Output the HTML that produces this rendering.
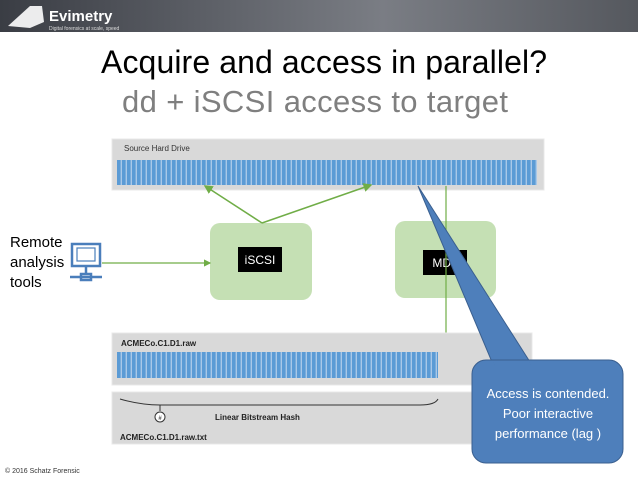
<html><body style="margin:0;width:638px;height:479px;overflow:hidden;background:#fff">
<svg width="638" height="479" xmlns="http://www.w3.org/2000/svg" style="display:block;font-family:'Liberation Sans',sans-serif">
<defs>
<pattern id="st" x="117" y="0" width="5" height="10" patternUnits="userSpaceOnUse"><rect width="5" height="10" fill="#a9c8e8"/><rect width="3.6" height="10" fill="#5b9bd5"/></pattern>
<marker id="ar" markerWidth="6" markerHeight="6" refX="5" refY="3" orient="auto"><path d="M0,0L6,3L0,6z" fill="#70ad47"/></marker>
<linearGradient id="hd" x1="0" x2="1"><stop offset="0" stop-color="#3a3d44"/><stop offset="0.6" stop-color="#7a7d84"/><stop offset="1" stop-color="#55585e"/></linearGradient>
</defs>
<rect x="0" y="0" width="638" height="32" fill="url(#hd)"/>
<path d="M8,26 L30,6 L42,6 L44,22 L30,28 Z" fill="#fff" opacity="0.9"/>
<text x="49" y="21" font-size="15" font-weight="bold" fill="#fff">Evimetry</text>
<text x="49" y="30" font-size="5" fill="#ddd">Digital forensics at scale, speed</text>
<text x="324" y="73" font-size="32" text-anchor="middle" fill="#000" textLength="446">Acquire and access in parallel?</text>
<text x="315" y="112" font-size="31" text-anchor="middle" fill="#7f7f7f" textLength="386">dd + iSCSI access to target</text>
<rect x="112" y="139" width="432" height="51" fill="#d9d9d9" stroke="#e8e8e8"/>
<text x="124" y="151" font-size="8" fill="#333">Source Hard Drive</text>
<rect x="117" y="160" width="420" height="25" fill="url(#st)"/>
<rect x="210" y="223" width="102" height="77" rx="10" fill="#c5e0b4"/>
<rect x="238" y="247" width="44" height="25" fill="#000"/>
<text x="260" y="264" font-size="12" fill="#fff" text-anchor="middle">iSCSI</text>
<rect x="395" y="221" width="101" height="77" rx="10" fill="#c5e0b4"/>
<rect x="423" y="250" width="44" height="25" fill="#000"/>
<text x="445" y="267" font-size="12" fill="#fff" text-anchor="middle">MD5</text>
<line x1="262" y1="223" x2="205" y2="186" stroke="#70ad47" stroke-width="1.5" marker-end="url(#ar)"/>
<line x1="262" y1="223" x2="371" y2="185" stroke="#70ad47" stroke-width="1.5" marker-end="url(#ar)"/>
<line x1="446" y1="186" x2="446" y2="350" stroke="#70ad47" stroke-width="1.2" marker-end="url(#ar)"/>
<line x1="102" y1="263" x2="210" y2="263" stroke="#70ad47" stroke-width="1.2" marker-end="url(#ar)"/>
<rect x="112" y="333" width="420" height="52" fill="#d9d9d9" stroke="#e8e8e8"/>
<text x="121" y="346" font-size="8" font-weight="bold" fill="#222">ACMECo.C1.D1.raw</text>
<rect x="117" y="352" width="321" height="26" fill="url(#st)"/>
<rect x="112" y="392" width="450" height="52" fill="#d9d9d9" stroke="#e8e8e8"/>
<path d="M120,399 Q140,405 160,405 L420,405 Q435,405 438,399" fill="none" stroke="#333"/>
<line x1="160" y1="405" x2="160" y2="411" stroke="#333"/>
<circle cx="160" cy="417" r="5" fill="#fff" stroke="#333"/>
<text x="160" y="420" font-size="6" text-anchor="middle">#</text>
<text x="215" y="420" font-size="8" font-weight="bold" fill="#222">Linear Bitstream Hash</text>
<text x="120" y="440" font-size="8" font-weight="bold" fill="#222">ACMECo.C1.D1.raw.txt</text>
<text font-size="15" fill="#000"><tspan x="10" y="247">Remote</tspan><tspan x="10" y="267">analysis</tspan><tspan x="10" y="287">tools</tspan></text>
<g stroke="#4a7ebb" stroke-width="2.5" fill="none">
<rect x="72" y="244" width="28" height="22"/><rect x="77" y="248" width="18" height="13" stroke-width="1.2"/>
<line x1="86" y1="266" x2="86" y2="275"/><line x1="70" y1="277" x2="102" y2="277"/><rect x="81" y="274" width="10" height="6"/>
</g>
<path d="M418,186 L530,362 L492,362 Z" fill="#4e7fbb" stroke="#3a5f8f"/>
<rect x="472" y="360" width="151" height="103" rx="14" fill="#4e7fbb" stroke="#3a5f8f"/>
<path d="M493,361 L529,361 L531,366 L495,366Z" fill="#4e7fbb"/>
<text font-size="13" fill="#fff" text-anchor="middle"><tspan x="548" y="398">Access is contended.</tspan><tspan x="548" y="418">Poor interactive</tspan><tspan x="548" y="438">performance (lag )</tspan></text>
<text x="5" y="473" font-size="7" fill="#333">© 2016 Schatz Forensic</text>
</svg>
</body></html>
